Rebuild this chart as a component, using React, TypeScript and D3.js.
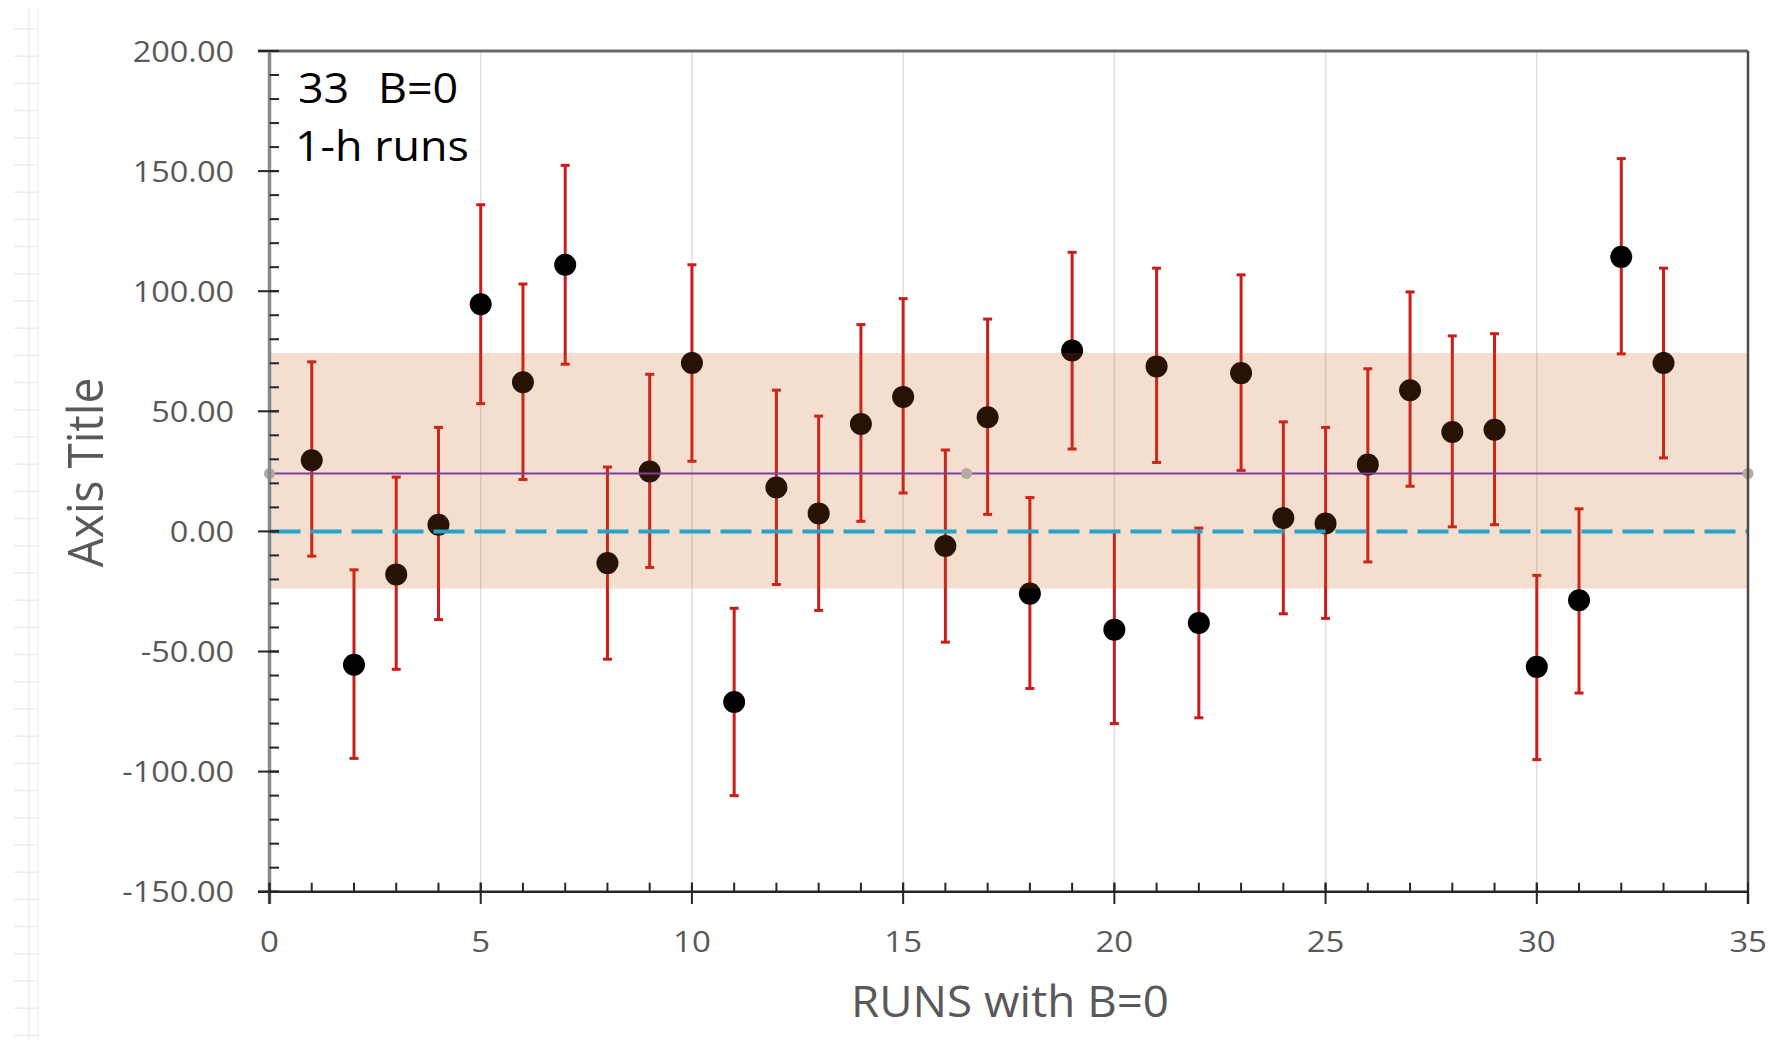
import React from 'react';
import * as d3 from 'd3';

// ---------- data ----------
const runs = [1, 2, 3, 4, 5, 6, 7, 8, 9, 10, 11, 12, 13, 14, 15, 16, 17, 18, 19, 20, 21, 22, 23, 24, 25, 26, 27, 28, 29, 30, 31, 32, 33];
const runValues = [29.6, -55.5, -17.9, 2.8, 94.6, 62.1, 111.0, -13.2, 24.9, 70.1, -71.0, 18.3, 7.5, 44.7, 56.0, -6.1, 47.5, -25.9, 75.3, -40.9, 68.7, -38.1, 65.9, 5.6, 3.3, 27.8, 58.8, 41.4, 42.3, -56.4, -28.7, 114.3, 70.1];
const errTop = [70.6, -16.0, 22.6, 43.3, 136.0, 103.0, 152.4, 26.8, 65.4, 111.0, -32.0, 58.8, 48.0, 86.1, 96.9, 33.9, 88.4, 14.1, 116.2, 0.0, 109.6, 1.4, 106.8, 45.6, 43.3, 67.7, 99.7, 81.4, 82.3, -18.3, 9.4, 155.2, 109.6];
const errBottom = [-10.3, -94.5, -57.4, -36.7, 53.2, 21.6, 69.6, -53.2, -15.0, 29.2, -110.0, -22.1, -32.9, 4.2, 16.0, -46.1, 7.1, -65.4, 34.3, -80.0, 28.7, -77.6, 25.4, -34.3, -36.2, -12.7, 18.8, 1.9, 2.8, -95.0, -67.3, 73.9, 30.6];
const meanValue = 24.1;
const meanMarkerX = [0, 16.5, 35];
const bandRange = [-23.8, 74.3];
const zeroLineValue = 0;
const xDomain = [0, 35];
const yDomain = [-150, 200];
const xMajorTicks = [0, 5, 10, 15, 20, 25, 30, 35];
const yMajorTicks = [-150, -100, -50, 0, 50, 100, 150, 200];
const xTitle = 'RUNS with B=0';
const yTitle = 'Axis Title';
const noteLine1a = '33';
const noteLine1b = 'B=0';
const noteLine2 = '1-h runs';

// ---------- layout ----------
const W = 1772;
const H = 1045;
const L = 269.5;
const R = 1748;
const T = 51;
const B = 891.7;
const FONT = "'Open Sans', 'Noto Sans', sans-serif";
const GRAY_TEXT = '#595959';

export default function App() {
  const x = d3.scaleLinear().domain(xDomain).range([L, R]);
  const y = d3.scaleLinear().domain(yDomain).range([B, T]);
  const fmt = (v: number) => d3.format('.2f')(v).replace('\u2212', '-');
  const xMinor = d3.range(xDomain[0], xDomain[1] + 1, 1);
  const yMinor = d3.range(yDomain[0], yDomain[1] + 1, 10);
  const gridX = xMajorTicks.filter((v) => v > xDomain[0] && v < xDomain[1]);

  // faint spreadsheet grid at far left (decoration)
  const sheetRows = d3.range(29, H, 27.2);

  const meanLine = d3
    .line<number>()
    .x((d) => x(d))
    .y(() => y(meanValue));

  return (
    <svg
      width={W}
      height={H}
      viewBox={`0 0 ${W} ${H}`}
      style={{ position: 'absolute', left: 0, top: 0, display: 'block', background: '#fff' }}
    >
      <rect x={0} y={0} width={W} height={H} fill="#ffffff" />

      {/* faint sheet grid */}
      <g stroke="#ececec" strokeWidth={1.5}>
        <line x1={29} x2={29} y1={8} y2={H - 5} />
        <line x1={38} x2={38} y1={8} y2={H - 5} stroke="#f3f3f3" />
        {sheetRows.map((r, i) => (
          <line key={i} x1={14} x2={38} y1={r} y2={r} />
        ))}
      </g>

      {/* vertical gridlines */}
      <g stroke="#dedede" strokeWidth={1.5}>
        {gridX.map((v) => (
          <line key={v} x1={x(v)} x2={x(v)} y1={T} y2={B} />
        ))}
      </g>

      {/* error bars */}
      <g stroke="#cc1b1b" strokeWidth={3}>
        {runs.map((r, i) => (
          <g key={r}>
            <line x1={x(r)} x2={x(r)} y1={y(errTop[i])} y2={y(errBottom[i])} />
            <line x1={x(r) - 4.5} x2={x(r) + 4.5} y1={y(errTop[i])} y2={y(errTop[i])} />
            <line x1={x(r) - 4.5} x2={x(r) + 4.5} y1={y(errBottom[i])} y2={y(errBottom[i])} />
          </g>
        ))}
      </g>

      {/* points */}
      <g fill="#000000">
        {runs.map((r, i) => (
          <circle key={r} cx={x(r)} cy={y(runValues[i])} r={11} />
        ))}
      </g>

      {/* band */}
      <rect
        x={x(xDomain[0])}
        width={x(xDomain[1]) - x(xDomain[0])}
        y={y(bandRange[1])}
        height={y(bandRange[0]) - y(bandRange[1])}
        fill="#c55a11"
        fillOpacity={0.2}
      />

      {/* zero dashed line */}
      <line
        x1={x(xDomain[0])}
        x2={x(xDomain[1])}
        y1={y(zeroLineValue)}
        y2={y(zeroLineValue)}
        stroke="#27a3c9"
        strokeWidth={4}
        strokeDasharray="31 10"
      />

      {/* mean line */}
      <path d={meanLine(meanMarkerX) || ''} fill="none" stroke="#7f409a" strokeWidth={2} />
      <g fill="#b3aba3">
        {meanMarkerX.map((v, i) => (
          <circle key={i} cx={x(v)} cy={y(meanValue)} r={5.5} />
        ))}
      </g>

      {/* frame: top and right */}
      <line x1={258} x2={R} y1={T} y2={T} stroke="#6a6a6a" strokeWidth={3} />
      <line x1={R} x2={R} y1={T} y2={904} stroke="#4a4a4a" strokeWidth={2.5} />

      {/* y axis */}
      <line x1={L} x2={L} y1={T} y2={904} stroke="#8a8a8a" strokeWidth={3.5} />
      <g stroke="#262626" strokeWidth={2}>
        {yMinor.map((v) => (
          <line key={v} x1={L} x2={L + 9.5} y1={y(v)} y2={y(v)} />
        ))}
        {yMajorTicks.map((v) => (
          <line key={v} x1={258} x2={L + 9.5} y1={y(v)} y2={y(v)} />
        ))}
      </g>

      {/* x axis */}
      <line x1={258} x2={R} y1={B} y2={B} stroke="#262626" strokeWidth={2.5} />
      <g stroke="#262626" strokeWidth={2}>
        {xMinor.map((v) => (
          <line key={v} x1={x(v)} x2={x(v)} y1={B - 9} y2={B} />
        ))}
        {xMajorTicks.map((v) => (
          <line key={v} x1={x(v)} x2={x(v)} y1={B - 9} y2={904} />
        ))}
      </g>

      {/* y tick labels */}
      <g fill={GRAY_TEXT} fontFamily={FONT} fontSize={29.5}>
        {yMajorTicks.map((v) => (
          <text key={v} textAnchor="end" transform={`translate(234,${y(v) + 10.5}) scale(1.1,1)`}>
            {fmt(v)}
          </text>
        ))}
      </g>

      {/* x tick labels */}
      <g fill={GRAY_TEXT} fontFamily={FONT} fontSize={30}>
        {xMajorTicks.map((v) => (
          <text key={v} textAnchor="middle" transform={`translate(${x(v)},951.7) scale(1.1,1)`}>
            {String(v)}
          </text>
        ))}
      </g>

      {/* axis titles */}
      <text
        fill={GRAY_TEXT}
        fontFamily={FONT}
        fontSize={44.4}
        textAnchor="middle"
        transform={`translate(1010,1016.7) scale(1.03,1)`}
      >
        {xTitle}
      </text>
      <text
        fill={GRAY_TEXT}
        fontFamily={FONT}
        fontSize={46}
        textAnchor="middle"
        transform={`translate(103,472.5) scale(1.09,1) rotate(-90)`}
      >
        {yTitle}
      </text>

      {/* annotation */}
      <g fill="#000000" fontFamily={FONT} fontSize={41.5}>
        <text transform={`translate(298,103) scale(1.08,1)`}>{noteLine1a}</text>
        <text transform={`translate(378,103) scale(1.08,1)`}>{noteLine1b}</text>
        <text transform={`translate(295,161) scale(1.08,1)`}>{noteLine2}</text>
      </g>
    </svg>
  );
}
